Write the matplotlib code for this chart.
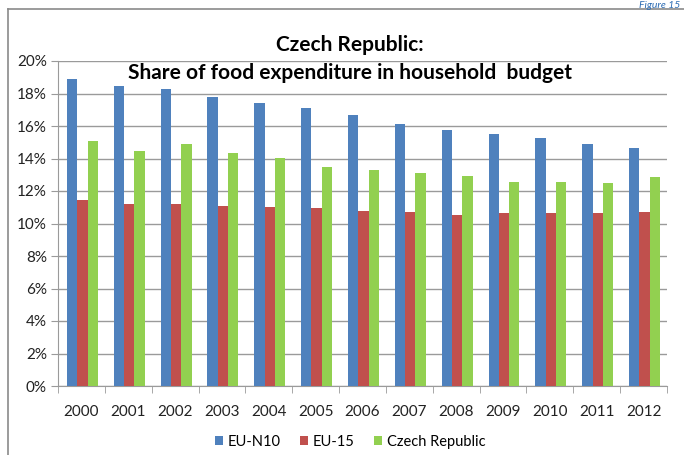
import numpy as np
import matplotlib
matplotlib.use("Agg")
import matplotlib.pyplot as plt
from matplotlib.lines import Line2D
from matplotlib.ticker import FuncFormatter, FixedLocator

plt.rcParams['font.family'] = ['Lato', 'DejaVu Sans']

#%% data
years = ['2000', '2001', '2002', '2003', '2004', '2005', '2006',
         '2007', '2008', '2009', '2010', '2011', '2012']
eu_n10 = [18.9, 18.45, 18.25, 17.8, 17.4, 17.1, 16.7, 16.15, 15.75, 15.5, 15.25, 14.9, 14.67]
eu_15 = [11.43, 11.22, 11.18, 11.08, 11.02, 10.94, 10.77, 10.69, 10.52, 10.63, 10.63, 10.63, 10.68]
czech = [15.08, 14.48, 14.87, 14.34, 14.01, 13.46, 13.29, 13.09, 12.94, 12.55, 12.55, 12.5, 12.84]
series_names = ['EU-N10', 'EU-15', 'Czech Republic']

#%% plot
fig = plt.figure(figsize=(6.84, 4.55), dpi=100)
ax = fig.add_axes([58/684, 69/455, 609/684, 325/455])

x = np.arange(len(years))
w = 0.22
cols = ['#4F81BD', '#C0504D', '#92D050']
for k, (vals, c, nm) in enumerate(zip([eu_n10, eu_15, czech], cols, series_names)):
    ax.bar(x + (k - 1) * w + 0.02, vals, width=w, color=c, label=nm, zorder=3,
           edgecolor='none')

ax.set_xlim(-0.5, len(years) - 0.5)
ax.set_ylim(0, 20)
ax.set_yticks(np.arange(0, 21, 2))
ax.yaxis.set_major_formatter(FuncFormatter(lambda v, p: '%d%%' % v))
ax.grid(axis='y', color='#9a9a9a', linewidth=1.0, zorder=0)
ax.set_xticks(x)
ax.set_xticklabels(years)
ax.xaxis.set_minor_locator(FixedLocator(np.arange(-0.5, len(years), 1.0)))
ax.tick_params(axis='x', which='major', length=0, pad=14, labelsize=11, colors='#222222')
ax.tick_params(axis='x', which='minor', length=5, color='#9a9a9a', direction='out')
ax.tick_params(axis='y', length=5, color='#9a9a9a', labelsize=11, colors='#222222', pad=3)
for s in ['top', 'right']:
    ax.spines[s].set_visible(False)
for s in ['left', 'bottom']:
    ax.spines[s].set_color('#9a9a9a')

fig.text(350/684, 1 - 45/455, 'Czech Republic:', ha='center', va='center',
         fontsize=15, fontweight='bold')
fig.text(350/684, 1 - 73/455, 'Share of food expenditure in household  budget',
         ha='center', va='center', fontsize=15, fontweight='bold')

fig.text(680/684, 1 - 1.5/455, 'Figure 15', ha='right', va='top', fontsize=7.5,
         style='italic', color='#2E6DB4')

# frame
fig.add_artist(Line2D([8/684, 8/684], [0, 1 - 9/455], color='#8a8a8a', lw=1.2,
                      transform=fig.transFigure))
fig.add_artist(Line2D([8/684, 1], [1 - 9/455, 1 - 9/455], color='#8a8a8a', lw=1.2,
                      transform=fig.transFigure))

fig.legend(loc='center', bbox_to_anchor=(350/684, 1 - 442/455), ncol=3, frameon=False,
           fontsize=10.5, handlelength=0.6, handleheight=0.6, handletextpad=0.3,
           columnspacing=1.3)

fig.savefig('out.png', dpi=100)
